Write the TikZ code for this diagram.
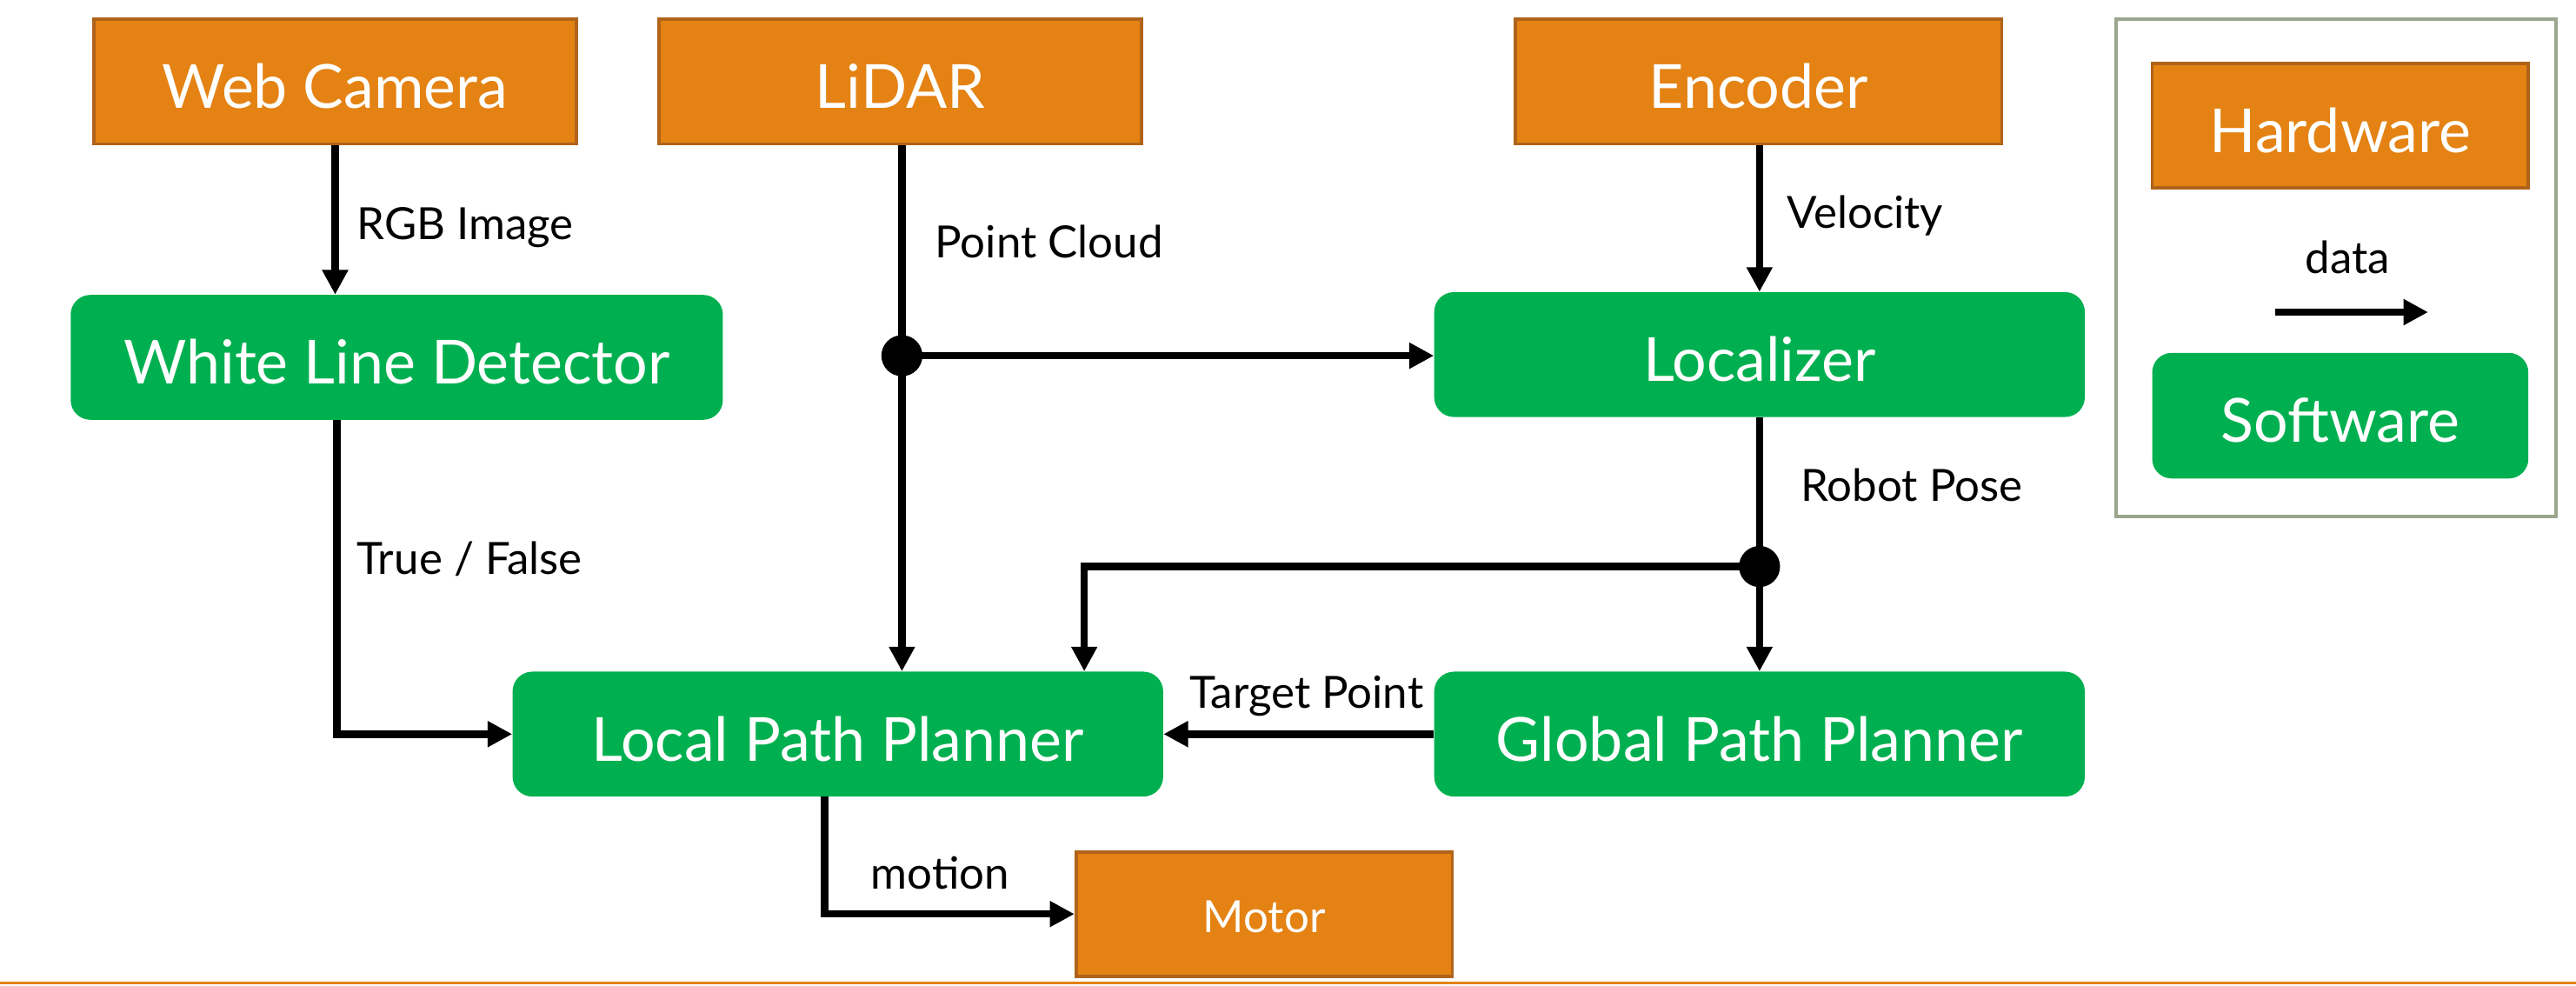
\documentclass[tikz,border=0pt]{standalone}
\usepackage{fontspec}
\setmainfont{Lato}
\usetikzlibrary{arrows.meta}
\definecolor{hwfill}{RGB}{228,130,19}
\definecolor{hwedge}{RGB}{176,99,26}
\definecolor{swfill}{RGB}{0,176,80}
\definecolor{legendedge}{RGB}{155,166,143}
\begin{document}
\begin{tikzpicture}[x=1pt,y=1pt,
  boxfont/.style={font=\fontsize{37}{44}\selectfont, text height=32.5pt, text depth=0pt},
  smallbox/.style={font=\fontsize{27}{32}\selectfont, text height=22.7pt, text depth=0pt},
  hwbox/.style={boxfont, draw=hwedge, line width=2pt, fill=hwfill, text=white, inner sep=0pt},
  swbox/.style={boxfont, fill=swfill, rounded corners=12pt, text=white, inner sep=0pt},
  lbl/.style={font=\fontsize{27}{32}\selectfont, text height=19.3pt, text depth=0pt, inner sep=0pt, anchor=west},
  conn/.style={line width=4.5pt, -{Triangle[width=15pt,length=15pt]}},
  wire/.style={line width=4.5pt},
  junction/.style={circle, fill=black, minimum size=25pt, inner sep=0pt}]
\useasboundingbox (0,0) rectangle (1568,600);
% hardware
\node[hwbox, minimum width=294pt, minimum height=76pt] (cam) at (204,550.4) {Web Camera};
\node[hwbox, minimum width=294pt, minimum height=76pt] (lidar) at (548,550.4) {LiDAR};
\node[hwbox, minimum width=296pt, minimum height=76pt] (enc) at (1070.5,550.4) {Encoder};
\node[hwbox, smallbox, minimum width=229pt, minimum height=75.6pt] (motor) at (769.5,43.7) {Motor};
% software
\node[swbox, minimum width=397pt, minimum height=76pt] (wld) at (241.5,382.5) {White Line Detector};
\node[swbox, minimum width=396pt, minimum height=76pt] (loc) at (1071,384.2) {Localizer};
\node[swbox, minimum width=396pt, minimum height=76pt] (lpp) at (510,153.2) {Local Path Planner};
\node[swbox, minimum width=396pt, minimum height=76pt] (gpp) at (1071,153.2) {Global Path Planner};
% legend
\node[draw=legendedge, line width=2pt, minimum width=268pt, minimum height=302.6pt] (legend) at (1422,437) {};
\node[hwbox, minimum width=229pt, minimum height=76pt] (hw) at (1424.5,523.5) {Hardware};
\node[swbox, minimum width=229pt, minimum height=76.5pt] (sw) at (1424.5,347) {Software};
\node[lbl, anchor=center] (datalbl) at (1428.9,443) {data};
\coordinate (da) at (1385,410);
\coordinate (db) at (1478,410);
\draw[conn] (da) -- (db);
% bottom rule
\coordinate (bl) at (0,2);
\coordinate (br) at (1568,2);
\draw[hwfill, line width=1.6pt] (bl) -- (br);
% x positions of vertical runs
\coordinate (xa) at (204,0);
\coordinate (xd) at (205,0);
\coordinate (xe) at (660,0);
\coordinate (xf) at (502,0);
% junctions
\node[junction] (d1) at (549,383.5) {};
\node[junction] (d2) at (1071,255.2) {};
% connectors
\draw[conn] (cam.south -| xa) -- (wld.north -| xa);
\draw[wire] (lidar.south -| d1) -- (d1.center);
\draw[conn] (d1.center) -- (lpp.north -| d1);
\draw[conn] (d1.center) -- (d1 -| loc.west);
\draw[conn] (enc.south -| d2) -- (loc.north -| d2);
\draw[wire] (loc.south -| d2) -- (d2.center);
\draw[conn] (d2.center) -- (gpp.north -| d2);
\draw[conn] (d2.center) -| (lpp.north -| xe);
\draw[conn] (wld.south -| xd) |- (lpp.west);
\draw[conn] (gpp.west) -- (lpp.east);
\draw[conn] (lpp.south -| xf) |- (motor.west);
% labels
\node[lbl] (l1) at (217,463.6) {RGB Image};
\node[lbl] (l2) at (569,453) {Point Cloud};
\node[lbl] (l3) at (1087.5,470.7) {Velocity};
\node[lbl] (l4) at (1096,304.6) {Robot Pose};
\node[lbl] (l5) at (217,260) {True / False};
\node[lbl] (l6) at (724,178.6) {Target Point};
\node[lbl] (l7) at (530,68.6) {motion};
\end{tikzpicture}
\end{document}
